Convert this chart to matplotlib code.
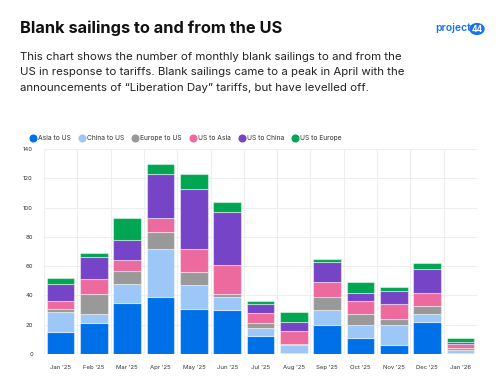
import matplotlib
matplotlib.use("Agg")
import matplotlib.pyplot as plt
from matplotlib.patches import Circle
from matplotlib.lines import Line2D
import numpy as np

plt.rcParams['font.family'] = ['Inter', 'DejaVu Sans']

months = ["Jan '25", "Feb '25", "Mar '25", "Apr '25", "May '25", "Jun '25", "Jul '25",
          "Aug '25", "Sep '25", "Oct '25", "Nov '25", "Dec '25", "Jan '26"]
asia_to_us   = [15, 21, 35, 39, 31, 30, 12, 1, 20, 11, 6, 22, 1]
china_to_us  = [14, 6, 13, 33, 16, 9, 6, 5, 10, 9, 14, 5, 2]
europe_to_us = [2, 14, 9, 11, 9, 2, 3, 1, 9, 7, 4, 6, 1]
us_to_asia   = [5, 10, 7, 10, 16, 20, 7, 9, 10, 9, 10, 9, 3]
us_to_china  = [12, 15, 14, 30, 41, 36, 6, 6, 14, 6, 9, 16, 1]
us_to_europe = [4, 3, 15, 7, 10, 7, 2, 7, 2, 7, 3, 4, 3]

series_names = ["Asia to US", "China to US", "Europe to US", "US to Asia", "US to China", "US to Europe"]
series_vals = [asia_to_us, china_to_us, europe_to_us, us_to_asia, us_to_china, us_to_europe]
colors = ["#0070E8", "#9CC7F6", "#999999", "#EC6A9E", "#7644C6", "#00A651"]
yticks = [0, 20, 40, 60, 80, 100, 120, 140]

fig = plt.figure(figsize=(5.04, 3.87), dpi=100)
fig.patch.set_facecolor("white")

ax = fig.add_axes([44/504, 1-354/387, (477-44)/504, (354-149)/387])
x = np.arange(len(months))
bottom = np.zeros(len(months))
for name, vals, c in zip(series_names, series_vals, colors):
    v = np.array(vals, dtype=float)
    ax.bar(x, v, bottom=bottom, width=0.83, color=c, edgecolor=(1, 1, 1, 0.45),
           linewidth=0.8, label=name, zorder=3)
    bottom += v

ax.set_xlim(-0.5, len(months) - 0.5)
ax.set_ylim(0, 140)
ax.set_yticks(yticks)
ax.set_yticklabels([str(t) for t in yticks], fontsize=4.3, color="#333333")
ax.set_xticks(x)
ax.set_xticklabels(months, fontsize=4.3, color="#333333")
ax.set_xticks(np.arange(-0.5, len(months), 1.0), minor=True)
ax.tick_params(axis='both', which='both', length=0)
ax.tick_params(axis='x', pad=8)
ax.tick_params(axis='y', pad=8)
ax.grid(axis='y', which='major', color="#eeeeee", linewidth=0.8, zorder=0)
ax.grid(axis='x', which='minor', color="#eeeeee", linewidth=0.8, zorder=0)
ax.grid(axis='x', which='major', visible=False)
for s in ax.spines.values():
    s.set_visible(False)

circ = [Line2D([0], [0], marker='o', linestyle='', markersize=4.8, markerfacecolor=c,
               markeredgecolor=c) for c in colors]
fig.legend(circ, series_names, loc='center left', bbox_to_anchor=(28/504, 1-138/387), ncol=6,
           frameon=False, fontsize=4.8, handlelength=0.8, handletextpad=0.3,
           columnspacing=1.3, borderaxespad=0, labelcolor="#333333")

fig.text(20/504, 1-28/387, "Blank sailings to and from the US", fontsize=11.8, fontweight='bold',
         color="#111111", va='center', ha='left')
sub = ("This chart shows the number of monthly blank sailings to and from the\n"
       "US in response to tariffs. Blank sailings came to a peak in April with the\n"
       "announcements of \u201cLiberation Day\u201d tariffs, but have levelled off.")
fig.text(20/504, 1-52/387, sub, fontsize=8.25, color="#222222", va='top', ha='left',
         linespacing=1.68)

# logo
fig.text(471/504, 1-28/387, "project", fontsize=7.5, fontweight='semibold', color="#1a73e8",
         ha='right', va='center', fontstretch='condensed')
circle = Circle((477/504, 1-29/387), 7/504, transform=fig.transFigure, color="#1a73e8")
fig.patches.append(circle)
fig.text(477/504, 1-29/387, "44", fontsize=6, fontweight='bold', color="white",
         ha='center', va='center')

fig.savefig("out.png", dpi=100)
